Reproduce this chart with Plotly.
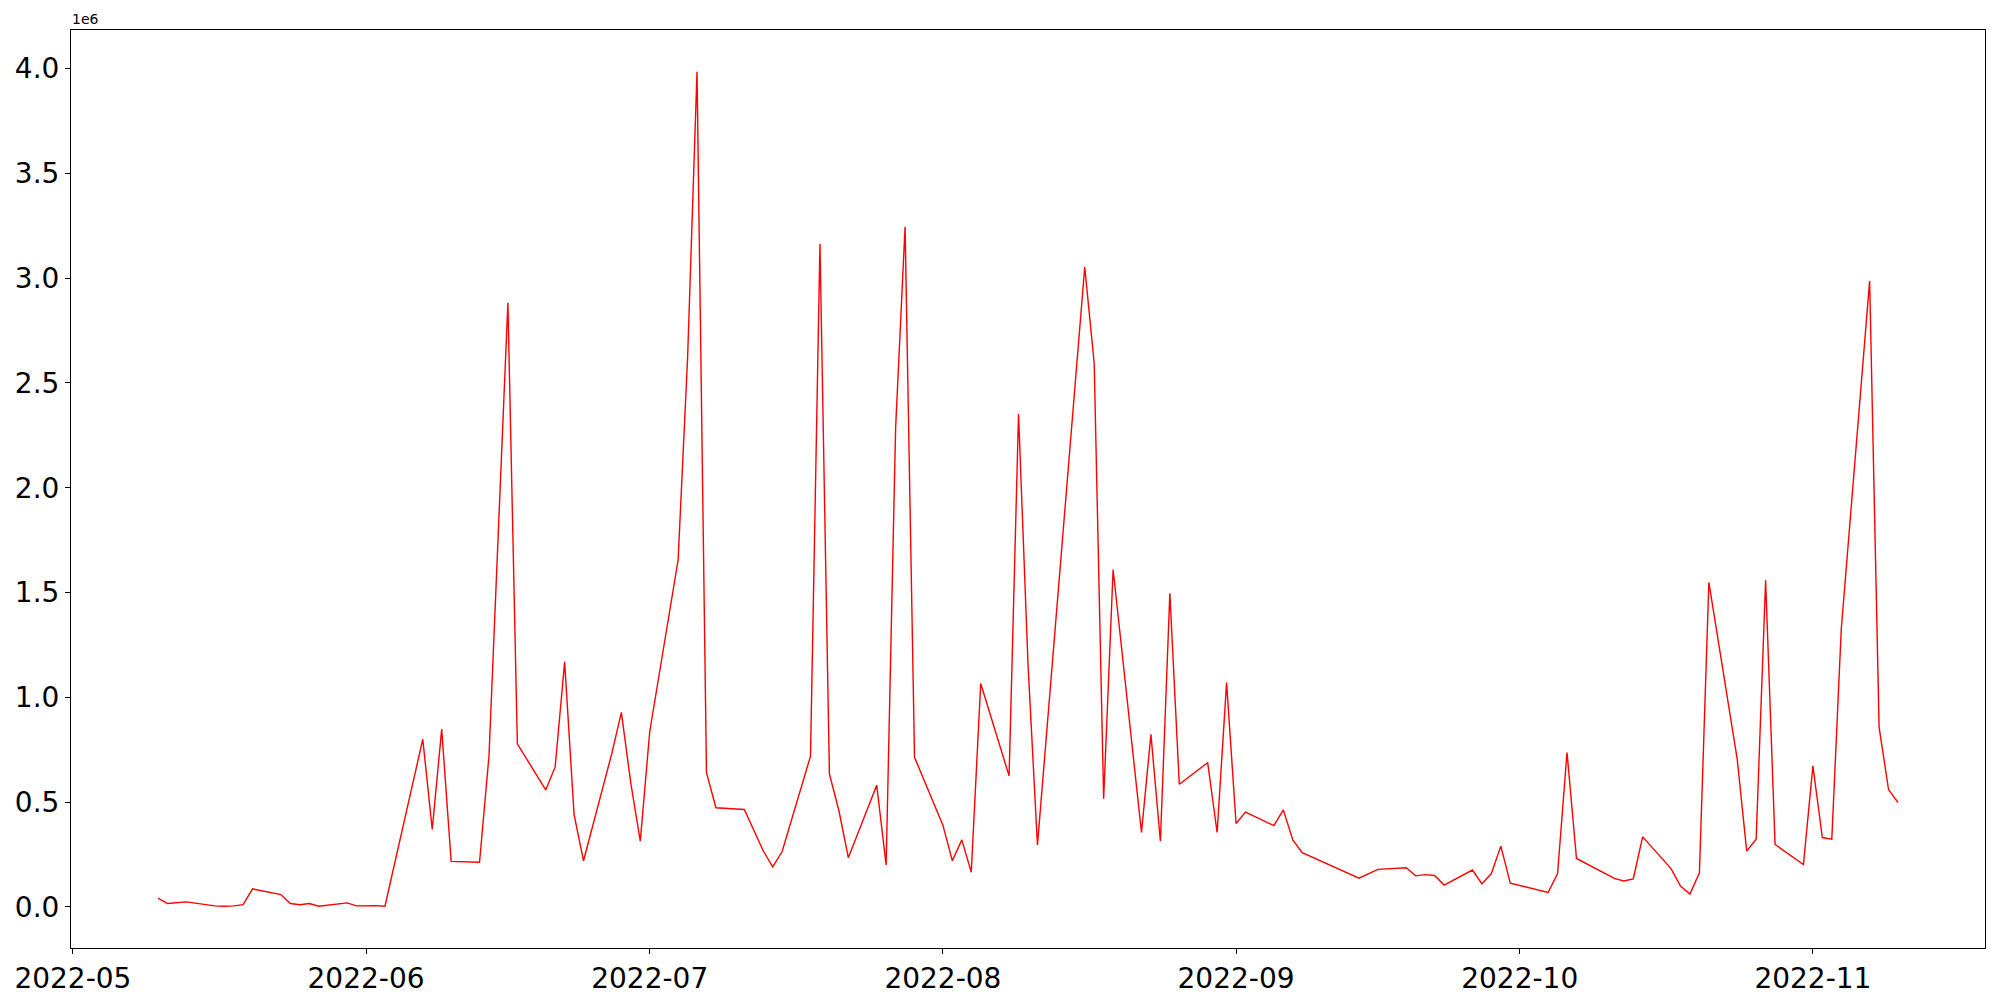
import plotly.graph_objects as go
import pandas as pd

dates = [
    "2022-05-10", "2022-05-11", "2022-05-13", "2022-05-16", "2022-05-17", "2022-05-18",
    "2022-05-19", "2022-05-20", "2022-05-23", "2022-05-24", "2022-05-25", "2022-05-26",
    "2022-05-27", "2022-05-30", "2022-05-31", "2022-06-01", "2022-06-02", "2022-06-03",
    "2022-06-07", "2022-06-08", "2022-06-09", "2022-06-10", "2022-06-13", "2022-06-14",
    "2022-06-16", "2022-06-17", "2022-06-20", "2022-06-21", "2022-06-22", "2022-06-23",
    "2022-06-24", "2022-06-27", "2022-06-28", "2022-06-29", "2022-06-30", "2022-07-01",
    "2022-07-04", "2022-07-05", "2022-07-06", "2022-07-07", "2022-07-08", "2022-07-11",
    "2022-07-13", "2022-07-14", "2022-07-15", "2022-07-18", "2022-07-19", "2022-07-20",
    "2022-07-21", "2022-07-22", "2022-07-25", "2022-07-26", "2022-07-27", "2022-07-28",
    "2022-07-29", "2022-08-01", "2022-08-02", "2022-08-03", "2022-08-04", "2022-08-05",
    "2022-08-08", "2022-08-09", "2022-08-10", "2022-08-11", "2022-08-16", "2022-08-17",
    "2022-08-18", "2022-08-19", "2022-08-22", "2022-08-23", "2022-08-24", "2022-08-25",
    "2022-08-26", "2022-08-29", "2022-08-30", "2022-08-31", "2022-09-01", "2022-09-02",
    "2022-09-05", "2022-09-06", "2022-09-07", "2022-09-08", "2022-09-14", "2022-09-16",
    "2022-09-19", "2022-09-20", "2022-09-21", "2022-09-22", "2022-09-23", "2022-09-26",
    "2022-09-27", "2022-09-28", "2022-09-29", "2022-09-30", "2022-10-04", "2022-10-05",
    "2022-10-06", "2022-10-07", "2022-10-11", "2022-10-12", "2022-10-13", "2022-10-14",
    "2022-10-17", "2022-10-18", "2022-10-19", "2022-10-20", "2022-10-21", "2022-10-24",
    "2022-10-25", "2022-10-26", "2022-10-27", "2022-10-28", "2022-10-31", "2022-11-01",
    "2022-11-02", "2022-11-03", "2022-11-04", "2022-11-07", "2022-11-08", "2022-11-09",
    "2022-11-10",
]

values_millions = [
    0.042, 0.016, 0.024, 0.005, 0.003, 0.005,
    0.011, 0.086, 0.059, 0.016, 0.010, 0.016,
    0.003, 0.019, 0.005, 0.006, 0.006, 0.003,
    0.800, 0.370, 0.848, 0.217, 0.213, 0.720,
    2.883, 0.778, 0.558, 0.668, 1.169, 0.440,
    0.220, 0.734, 0.928, 0.589, 0.314, 0.837,
    1.655, 2.618, 3.985, 0.640, 0.473, 0.465,
    0.268, 0.191, 0.264, 0.719, 3.164, 0.635,
    0.460, 0.235, 0.581, 0.200, 2.285, 3.245,
    0.714, 0.390, 0.220, 0.320, 0.166, 1.066,
    0.625, 2.352, 1.158, 0.295, 3.053, 2.594,
    0.516, 1.610, 0.355, 0.823, 0.313, 1.496,
    0.585, 0.688, 0.355, 1.071, 0.398, 0.452,
    0.388, 0.463, 0.320, 0.259, 0.137, 0.179,
    0.187, 0.148, 0.154, 0.150, 0.104, 0.176,
    0.110, 0.159, 0.290, 0.113, 0.069, 0.159,
    0.737, 0.231, 0.136, 0.124, 0.134, 0.334,
    0.183, 0.099, 0.061, 0.163, 1.548, 0.704,
    0.266, 0.323, 1.559, 0.298, 0.202, 0.673,
    0.331, 0.323, 1.325, 2.987, 0.858, 0.560,
    0.498,
]

values = [v * 1e6 for v in values_millions]

y_tick_vals = [0, 500000, 1000000, 1500000, 2000000, 2500000, 3000000, 3500000, 4000000]
y_tick_text = ["0.0", "0.5", "1.0", "1.5", "2.0", "2.5", "3.0", "3.5", "4.0"]
x_tick_vals = ["2022-05-01", "2022-06-01", "2022-07-01", "2022-08-01",
               "2022-09-01", "2022-10-01", "2022-11-01"]
x_tick_text = ["2022-05", "2022-06", "2022-07", "2022-08", "2022-09", "2022-10", "2022-11"]

# matplotlib-like 5% margins
d = pd.to_datetime(dates)
span = d.max() - d.min()
x_range = [d.min() - span * 0.05, d.max() + span * 0.05]
ymin, ymax = min(values), max(values)
yspan = ymax - ymin
y_range = [ymin - 0.05 * yspan, ymax + 0.05 * yspan]

fig = go.Figure()
fig.add_trace(go.Scatter(x=d, y=values, mode="lines",
                         line=dict(color="red", width=1.4), showlegend=False))

axis_common = dict(showgrid=False, zeroline=False, showline=True, linecolor="black",
                   linewidth=1, mirror=True, ticks="outside", ticklen=5, tickwidth=1,
                   tickcolor="black", automargin=False,
                   tickfont=dict(family="DejaVu Sans", size=28, color="black"))

fig.update_xaxes(range=x_range, tickmode="array", tickvals=x_tick_vals,
                 ticktext=x_tick_text, **axis_common)
fig.update_yaxes(range=y_range, tickmode="array", tickvals=y_tick_vals,
                 ticktext=y_tick_text, **axis_common)

fig.add_annotation(text="1e6", xref="paper", yref="paper", x=0, y=1,
                   xanchor="left", yanchor="bottom", showarrow=False, xshift=-1, yshift=1,
                   font=dict(family="DejaVu Sans", size=14, color="black"))

fig.update_layout(width=2000, height=1000, plot_bgcolor="white", paper_bgcolor="white",
                  margin=dict(l=71, r=15, t=30, b=52, autoexpand=False))

fig.write_html("out.html", config={"displayModeBar": False},
               post_script="document.body.style.margin='0';document.body.style.padding='0';")
